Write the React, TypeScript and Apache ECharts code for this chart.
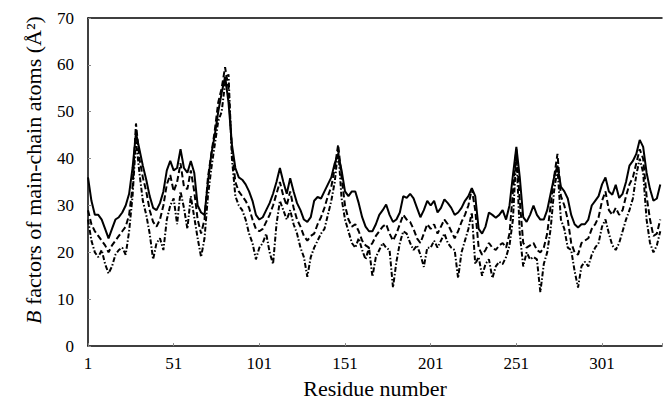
import React, { useEffect, useRef } from "react";
import * as echarts from "echarts";

// Residue numbers sampled every 2 residues (1, 3, 5, ..., 335)
const residues: number[] = Array.from({ length: 168 }, (_, i) => 1 + i * 2);

const solidB: number[] = [
  36, 31, 28, 28, 27, 25, 23, 25, 27, 27.5,
  28.5, 30, 32.5, 38, 45.5, 42, 38.5, 35.5, 32, 29.5,
  29, 30.5, 33, 37.5, 39.5, 37.5, 38, 42, 38, 37,
  39.5, 37, 30, 28.5, 28, 35, 41, 45, 50, 54,
  57.5, 52, 43, 38, 36, 35.5, 34.5, 33, 31, 28,
  27, 27.5, 29, 30.5, 32.5, 35, 38, 35, 32.5, 35.8,
  33, 30.5, 29, 27, 26.5, 27.5, 31, 31.8, 31.5, 33,
  34.5, 36, 39, 41, 37.5, 33, 32, 33, 33, 30.5,
  27.5, 25.5, 24.5, 24.5, 26, 28, 29, 30.2, 28, 26.5,
  27, 28.5, 32, 31.6, 32.5, 31.5, 29.5, 27.5, 29, 31,
  30, 31, 28.5, 29.5, 31.3, 30.5, 29.5, 28, 28.5, 29.5,
  31, 32, 33.7, 32, 25, 24, 25.5, 28.5, 28, 27.4,
  28, 29, 27, 30, 36.5, 42.5, 36, 27.5, 26.5, 28,
  30, 28, 27, 27, 29, 32.5, 36, 38.5, 34, 33,
  31.5, 28, 26, 25.3, 26, 26, 27, 30, 31, 32,
  34.5, 36, 33, 32.3, 34.4, 31.6, 32.5, 35, 38.5, 39.5,
  41, 44, 42.5, 37, 33.5, 31, 31.5, 34.5,
];

const dashedB: number[] = [
  29, 26, 24.5, 23.5, 22.5, 21.5, 20, 21.5, 22.5, 23.5,
  24.5, 25.5, 28, 34, 47.5, 40, 36, 33, 29, 26.5,
  25.5, 27, 30, 34.5, 36.5, 33, 35, 39, 34, 33.5,
  37.5, 33, 27, 24, 27, 36, 41, 46, 52, 55,
  59.5, 55, 42, 35, 33, 32, 31, 29.5, 27, 25,
  24.5, 25, 26.5, 28, 30, 32.5, 35, 32, 30, 33,
  29.5, 27, 25.5, 23.5, 22.5, 23.5, 24, 26, 27.5, 29.5,
  32, 34, 38, 43, 36, 30, 27, 25.5, 26, 24.5,
  22.5, 21.5, 21, 22, 23.5, 24.5, 25.5, 26, 24, 22.5,
  24, 26, 28, 27, 26.5, 25, 23, 22, 24, 26,
  25, 26, 24, 25.5, 27, 26, 24.5, 23, 24.5, 26.5,
  28, 30, 33.5, 29, 21, 19.5, 20.5, 22, 21, 20.5,
  21.5, 22, 21, 24, 33, 42, 31, 22, 21, 21.5,
  22, 20.5, 20, 21, 24, 30, 36, 41, 32, 30,
  27, 22, 20, 19.5, 22, 22.5, 23, 25, 26, 27.5,
  31, 33, 29, 28, 29.5, 28, 29, 32, 34.5, 36,
  39, 42, 40, 32, 27, 23.5, 24, 27,
];

const dashDotB: number[] = [
  27, 22.5, 20, 19, 20.5, 17.5, 15.5, 17, 19.5, 20.5,
  21, 19.5, 24.5, 32, 44, 37, 31, 28, 24, 18.5,
  22, 23, 20.5, 27, 30, 31.5, 26, 33, 29.5, 25,
  32, 27.5, 23, 19, 23, 32, 38, 43, 48, 50,
  56, 58, 40, 32, 30, 29, 27, 24, 22, 18.5,
  21, 22, 24, 20, 17.5, 26, 31, 29, 27, 29,
  26, 24, 21, 19, 14.8, 19, 21, 22.5, 24, 25,
  28, 31, 35, 42, 31.5, 27, 24.5, 22, 21, 23,
  20.5, 18.5, 21, 14.8, 19, 20.5, 22, 21, 20.5, 12.5,
  18, 22, 24.5, 24, 22, 20.5, 21.5, 19.5, 16.9, 21,
  21, 22.5, 21, 22.5, 24, 22, 21, 20.5, 14.5, 20,
  22.5, 25, 28.5, 17.5, 19, 15, 17.5, 18.5, 14.5, 17,
  18, 17.5, 19, 21.5, 27, 41, 24, 17, 20, 18.5,
  19, 18.5, 11.5, 17.5, 20, 25, 33, 38, 27, 25,
  21, 20.5, 16, 12.5, 17, 18, 17, 19.5, 21, 22,
  25.5, 27, 24, 21.5, 20.5, 22, 24.5, 27, 29, 31.5,
  36.5, 40, 37, 27, 22, 20, 21.5, 24.5,
];

const xTickLabels = [1, 51, 101, 151, 201, 251, 301];
const yMin = 0;
const yMax = 70;
const yStep = 10;
const xTitle = "Residue number";
const yTitle = "{i|B} factors of main-chain atoms (Å²)";

const FONT = "'Liberation Serif', 'DejaVu Serif', serif";

export default function App() {
  const ref = useRef<HTMLDivElement>(null);

  useEffect(() => {
    if (!ref.current) return;
    const chart = echarts.init(ref.current, undefined, { renderer: "svg" });
    const toPairs = (vals: number[]) => vals.map((v, i) => [residues[i] - 1, v]);
    const lineBase = {
      type: "line" as const,
      showSymbol: false,
      symbol: "none",
      smooth: false,
      silent: true,
    };
    chart.setOption({
      animation: false,
      backgroundColor: "#ffffff",
      grid: { left: 88, top: 18, right: 1, bottom: 54, containLabel: false },
      xAxis: [
        {
          type: "value",
          min: 0,
          max: 335,
          interval: 50,
          name: xTitle,
          nameLocation: "middle",
          nameGap: 27,
          nameTextStyle: { fontFamily: FONT, fontSize: 22, color: "#000" },
          axisLine: { show: true, lineStyle: { color: "#000", width: 1.5 } },
          axisTick: { show: true, inside: true, length: 3, lineStyle: { color: "#888" } },
          axisLabel: {
            fontFamily: FONT,
            fontSize: 17,
            color: "#000",
            margin: 9,
            formatter: (v: number) =>
              xTickLabels.indexOf(v + 1) >= 0 ? String(v + 1) : "",
          },
          splitLine: { show: false },
        },
        {
          type: "value",
          position: "top",
          min: 0,
          max: 335,
          axisLine: { show: true, lineStyle: { color: "#000", width: 1.5 } },
          axisTick: { show: false },
          axisLabel: { show: false },
          splitLine: { show: false },
        },
      ],
      yAxis: {
        type: "value",
        min: yMin,
        max: yMax,
        interval: yStep,
        name: yTitle,
        nameLocation: "middle",
        nameGap: 44,
        nameTextStyle: {
          fontFamily: FONT,
          fontSize: 22,
          color: "#000",
          padding: [0, 0, 0, 24],
          rich: { i: { fontFamily: FONT, fontSize: 22, fontStyle: "italic", color: "#000" } },
        },
        axisLine: { show: true, lineStyle: { color: "#000", width: 1.5 } },
        axisTick: { show: true, inside: true, length: 3, lineStyle: { color: "#888" } },
        axisLabel: { fontFamily: FONT, fontSize: 17, color: "#000", margin: 14 },
        splitLine: { show: false },
      },
      series: [
        {
          ...lineBase,
          name: "solid",
          data: toPairs(solidB),
          lineStyle: { color: "#000", width: 2, type: "solid" },
          z: 3,
        },
        {
          ...lineBase,
          name: "dashed",
          data: toPairs(dashedB),
          lineStyle: { color: "#000", width: 2, type: [6, 3] },
          z: 2,
        },
        {
          ...lineBase,
          name: "dashdot",
          data: toPairs(dashDotB),
          lineStyle: { color: "#000", width: 2, type: [5, 2, 1.5, 2] },
          z: 1,
        },
      ],
    });
    return () => chart.dispose();
  }, []);

  return (
    <div
      ref={ref}
      style={{ position: "absolute", left: 0, top: 0, width: 665, height: 404 }}
    />
  );
}
